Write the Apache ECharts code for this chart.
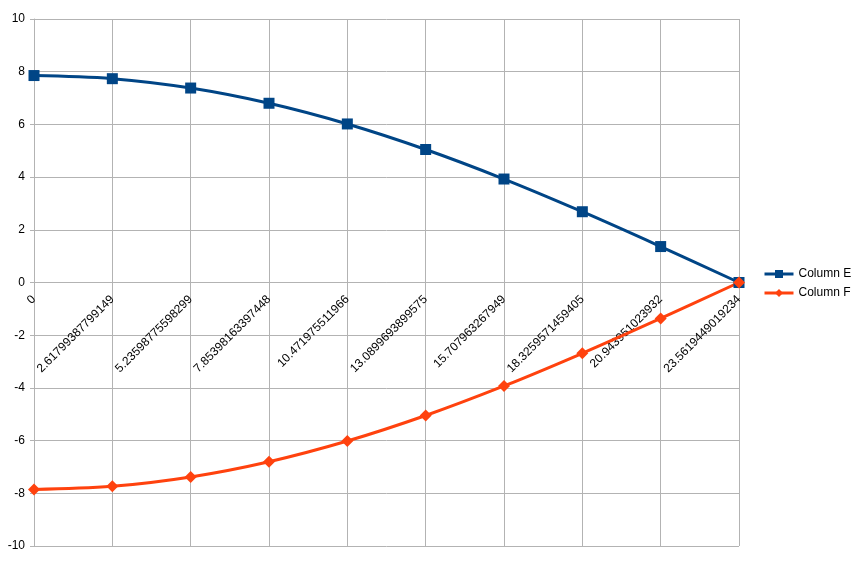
<!DOCTYPE html>
<html>
<head>
<meta charset="utf-8">
<script src="https://cdn.jsdelivr.net/npm/echarts@6/dist/echarts.min.js"></script>
<style>html,body{margin:0;padding:0;background:#fff}#c{width:856px;height:563px}</style>
</head>
<body>
<div id="c"></div>
<script>
var categories = ['0','2.61799387799149','5.23598775598299','7.85398163397448','10.471975511966','13.0899693899575','15.707963267949','18.3259571459405','20.943951023932','23.5619449019234'];
var columnE = [7.854, 7.735, 7.380, 6.802, 6.017, 5.048, 3.927, 2.686, 1.364, 0];
var columnF = [-7.854, -7.735, -7.380, -6.802, -6.017, -5.048, -3.927, -2.686, -1.364, 0];
var yTicks = {min: -10, max: 10, interval: 2};

var chart = echarts.init(document.getElementById('c'), null, {renderer: 'canvas'});
var gridColor = '#b3b3b3';
var gridTop = 19, gridBottom = 17, H = 563;
var plotH = H - gridTop - gridBottom;
// place the category axis where the value axis crosses zero
var zeroOffset = -plotH * (0 - yTicks.min) / (yTicks.max - yTicks.min);
chart.setOption({
  animation: false,
  textStyle: {fontFamily: 'Liberation Sans, Arial, sans-serif'},
  grid: {left: 34, right: 117, top: gridTop, bottom: gridBottom, containLabel: false, outerBoundsMode: 'none'},
  legend: {
    orient: 'vertical', left: 758, top: 263,
    itemWidth: 29, itemHeight: 10, itemGap: 7,
    textStyle: {fontSize: 12, color: '#000'},
    lineStyle: {width: 3},
    data: ['Column E', 'Column F']
  },
  xAxis: {
    type: 'category', data: categories, boundaryGap: false,
    position: 'bottom', offset: zeroOffset,
    axisLine: {onZero: false, lineStyle: {color: gridColor, width: 1}},
    axisTick: {show: true, length: 3, lineStyle: {color: gridColor}, interval: 0},
    axisLabel: {interval: 0, rotate: 45, fontSize: 12, color: '#000', margin: 15},
    splitLine: {show: true, lineStyle: {color: gridColor, width: 1}}
  },
  yAxis: {
    type: 'value', min: yTicks.min, max: yTicks.max, interval: yTicks.interval,
    axisLine: {show: true, lineStyle: {color: gridColor}},
    axisTick: {show: true, length: 4, lineStyle: {color: gridColor}},
    axisLabel: {fontSize: 12, color: '#000', margin: 9},
    splitLine: {show: true, lineStyle: {color: gridColor, width: 1}}
  },
  series: [
    {
      name: 'Column E', type: 'line', data: columnE, smooth: 0.35,
      symbol: 'rect', symbolSize: 11,
      lineStyle: {color: '#004586', width: 3},
      itemStyle: {color: '#004586'}
    },
    {
      name: 'Column F', type: 'line', data: columnF, smooth: 0.35,
      symbol: 'diamond', symbolSize: 12,
      lineStyle: {color: '#ff420e', width: 3},
      itemStyle: {color: '#ff420e'}
    }
  ]
});
</script>
</body>
</html>
